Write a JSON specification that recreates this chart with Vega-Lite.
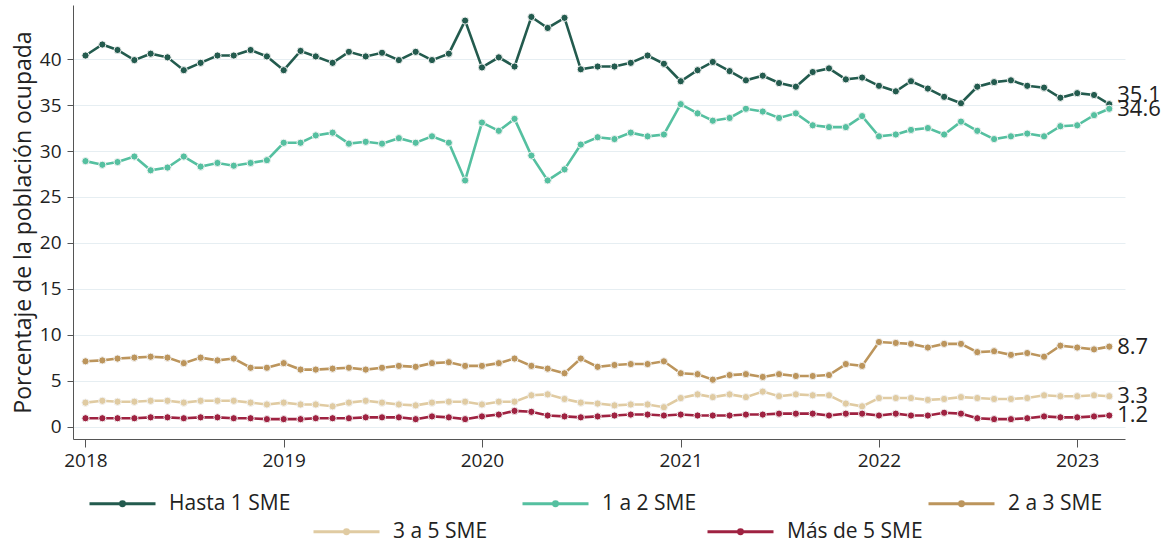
{
"$schema":"https://vega.github.io/schema/vega-lite/v6.json",
"width":1052,"height":434,
"autosize":{"type":"none"},
"padding":{"left":73,"top":5,"right":44,"bottom":104},
"background":"white",
"config":{"font":"Open Sans","view":{"stroke":null}},
"data":{"values":[
{"fecha":"2018-01-01","Hasta 1 SME":40.4,"1 a 2 SME":28.9,"2 a 3 SME":7.1,"3 a 5 SME":2.6,"Más de 5 SME":0.9},
{"fecha":"2018-02-01","Hasta 1 SME":41.6,"1 a 2 SME":28.5,"2 a 3 SME":7.2,"3 a 5 SME":2.8,"Más de 5 SME":0.9},
{"fecha":"2018-03-01","Hasta 1 SME":41.0,"1 a 2 SME":28.8,"2 a 3 SME":7.4,"3 a 5 SME":2.7,"Más de 5 SME":0.9},
{"fecha":"2018-04-01","Hasta 1 SME":39.9,"1 a 2 SME":29.4,"2 a 3 SME":7.5,"3 a 5 SME":2.7,"Más de 5 SME":0.9},
{"fecha":"2018-05-01","Hasta 1 SME":40.6,"1 a 2 SME":27.9,"2 a 3 SME":7.6,"3 a 5 SME":2.8,"Más de 5 SME":1.0},
{"fecha":"2018-06-01","Hasta 1 SME":40.2,"1 a 2 SME":28.2,"2 a 3 SME":7.5,"3 a 5 SME":2.8,"Más de 5 SME":1.0},
{"fecha":"2018-07-01","Hasta 1 SME":38.8,"1 a 2 SME":29.4,"2 a 3 SME":6.9,"3 a 5 SME":2.6,"Más de 5 SME":0.9},
{"fecha":"2018-08-01","Hasta 1 SME":39.6,"1 a 2 SME":28.3,"2 a 3 SME":7.5,"3 a 5 SME":2.8,"Más de 5 SME":1.0},
{"fecha":"2018-09-01","Hasta 1 SME":40.4,"1 a 2 SME":28.7,"2 a 3 SME":7.2,"3 a 5 SME":2.8,"Más de 5 SME":1.0},
{"fecha":"2018-10-01","Hasta 1 SME":40.4,"1 a 2 SME":28.4,"2 a 3 SME":7.4,"3 a 5 SME":2.8,"Más de 5 SME":0.9},
{"fecha":"2018-11-01","Hasta 1 SME":41.0,"1 a 2 SME":28.7,"2 a 3 SME":6.4,"3 a 5 SME":2.6,"Más de 5 SME":0.9},
{"fecha":"2018-12-01","Hasta 1 SME":40.3,"1 a 2 SME":29.0,"2 a 3 SME":6.4,"3 a 5 SME":2.4,"Más de 5 SME":0.8},
{"fecha":"2019-01-01","Hasta 1 SME":38.8,"1 a 2 SME":30.9,"2 a 3 SME":6.9,"3 a 5 SME":2.6,"Más de 5 SME":0.8},
{"fecha":"2019-02-01","Hasta 1 SME":40.9,"1 a 2 SME":30.9,"2 a 3 SME":6.2,"3 a 5 SME":2.4,"Más de 5 SME":0.8},
{"fecha":"2019-03-01","Hasta 1 SME":40.3,"1 a 2 SME":31.7,"2 a 3 SME":6.2,"3 a 5 SME":2.4,"Más de 5 SME":0.9},
{"fecha":"2019-04-01","Hasta 1 SME":39.6,"1 a 2 SME":32.0,"2 a 3 SME":6.3,"3 a 5 SME":2.2,"Más de 5 SME":0.9},
{"fecha":"2019-05-01","Hasta 1 SME":40.8,"1 a 2 SME":30.8,"2 a 3 SME":6.4,"3 a 5 SME":2.6,"Más de 5 SME":0.9},
{"fecha":"2019-06-01","Hasta 1 SME":40.3,"1 a 2 SME":31.0,"2 a 3 SME":6.2,"3 a 5 SME":2.8,"Más de 5 SME":1.0},
{"fecha":"2019-07-01","Hasta 1 SME":40.7,"1 a 2 SME":30.8,"2 a 3 SME":6.4,"3 a 5 SME":2.6,"Más de 5 SME":1.0},
{"fecha":"2019-08-01","Hasta 1 SME":39.9,"1 a 2 SME":31.4,"2 a 3 SME":6.6,"3 a 5 SME":2.4,"Más de 5 SME":1.0},
{"fecha":"2019-09-01","Hasta 1 SME":40.8,"1 a 2 SME":30.9,"2 a 3 SME":6.5,"3 a 5 SME":2.3,"Más de 5 SME":0.8},
{"fecha":"2019-10-01","Hasta 1 SME":39.9,"1 a 2 SME":31.6,"2 a 3 SME":6.9,"3 a 5 SME":2.6,"Más de 5 SME":1.1},
{"fecha":"2019-11-01","Hasta 1 SME":40.6,"1 a 2 SME":30.9,"2 a 3 SME":7.0,"3 a 5 SME":2.7,"Más de 5 SME":1.0},
{"fecha":"2019-12-01","Hasta 1 SME":44.2,"1 a 2 SME":26.8,"2 a 3 SME":6.6,"3 a 5 SME":2.7,"Más de 5 SME":0.8},
{"fecha":"2020-01-01","Hasta 1 SME":39.1,"1 a 2 SME":33.1,"2 a 3 SME":6.6,"3 a 5 SME":2.4,"Más de 5 SME":1.1},
{"fecha":"2020-02-01","Hasta 1 SME":40.2,"1 a 2 SME":32.2,"2 a 3 SME":6.9,"3 a 5 SME":2.7,"Más de 5 SME":1.3},
{"fecha":"2020-03-01","Hasta 1 SME":39.2,"1 a 2 SME":33.5,"2 a 3 SME":7.4,"3 a 5 SME":2.7,"Más de 5 SME":1.7},
{"fecha":"2020-04-01","Hasta 1 SME":44.6,"1 a 2 SME":29.5,"2 a 3 SME":6.6,"3 a 5 SME":3.4,"Más de 5 SME":1.6},
{"fecha":"2020-05-01","Hasta 1 SME":43.4,"1 a 2 SME":26.8,"2 a 3 SME":6.3,"3 a 5 SME":3.5,"Más de 5 SME":1.2},
{"fecha":"2020-06-01","Hasta 1 SME":44.5,"1 a 2 SME":28.0,"2 a 3 SME":5.8,"3 a 5 SME":3.0,"Más de 5 SME":1.1},
{"fecha":"2020-07-01","Hasta 1 SME":38.9,"1 a 2 SME":30.7,"2 a 3 SME":7.4,"3 a 5 SME":2.6,"Más de 5 SME":1.0},
{"fecha":"2020-08-01","Hasta 1 SME":39.2,"1 a 2 SME":31.5,"2 a 3 SME":6.5,"3 a 5 SME":2.5,"Más de 5 SME":1.1},
{"fecha":"2020-09-01","Hasta 1 SME":39.2,"1 a 2 SME":31.3,"2 a 3 SME":6.7,"3 a 5 SME":2.3,"Más de 5 SME":1.2},
{"fecha":"2020-10-01","Hasta 1 SME":39.6,"1 a 2 SME":32.0,"2 a 3 SME":6.8,"3 a 5 SME":2.4,"Más de 5 SME":1.3},
{"fecha":"2020-11-01","Hasta 1 SME":40.4,"1 a 2 SME":31.6,"2 a 3 SME":6.8,"3 a 5 SME":2.4,"Más de 5 SME":1.3},
{"fecha":"2020-12-01","Hasta 1 SME":39.5,"1 a 2 SME":31.8,"2 a 3 SME":7.1,"3 a 5 SME":2.1,"Más de 5 SME":1.2},
{"fecha":"2021-01-01","Hasta 1 SME":37.6,"1 a 2 SME":35.1,"2 a 3 SME":5.8,"3 a 5 SME":3.1,"Más de 5 SME":1.3},
{"fecha":"2021-02-01","Hasta 1 SME":38.8,"1 a 2 SME":34.1,"2 a 3 SME":5.7,"3 a 5 SME":3.5,"Más de 5 SME":1.2},
{"fecha":"2021-03-01","Hasta 1 SME":39.7,"1 a 2 SME":33.3,"2 a 3 SME":5.1,"3 a 5 SME":3.2,"Más de 5 SME":1.2},
{"fecha":"2021-04-01","Hasta 1 SME":38.7,"1 a 2 SME":33.6,"2 a 3 SME":5.6,"3 a 5 SME":3.5,"Más de 5 SME":1.2},
{"fecha":"2021-05-01","Hasta 1 SME":37.7,"1 a 2 SME":34.6,"2 a 3 SME":5.7,"3 a 5 SME":3.2,"Más de 5 SME":1.3},
{"fecha":"2021-06-01","Hasta 1 SME":38.2,"1 a 2 SME":34.3,"2 a 3 SME":5.4,"3 a 5 SME":3.8,"Más de 5 SME":1.3},
{"fecha":"2021-07-01","Hasta 1 SME":37.4,"1 a 2 SME":33.6,"2 a 3 SME":5.7,"3 a 5 SME":3.3,"Más de 5 SME":1.4},
{"fecha":"2021-08-01","Hasta 1 SME":37.0,"1 a 2 SME":34.1,"2 a 3 SME":5.5,"3 a 5 SME":3.5,"Más de 5 SME":1.4},
{"fecha":"2021-09-01","Hasta 1 SME":38.6,"1 a 2 SME":32.8,"2 a 3 SME":5.5,"3 a 5 SME":3.4,"Más de 5 SME":1.4},
{"fecha":"2021-10-01","Hasta 1 SME":39.0,"1 a 2 SME":32.6,"2 a 3 SME":5.6,"3 a 5 SME":3.4,"Más de 5 SME":1.2},
{"fecha":"2021-11-01","Hasta 1 SME":37.8,"1 a 2 SME":32.6,"2 a 3 SME":6.8,"3 a 5 SME":2.5,"Más de 5 SME":1.4},
{"fecha":"2021-12-01","Hasta 1 SME":38.0,"1 a 2 SME":33.8,"2 a 3 SME":6.6,"3 a 5 SME":2.2,"Más de 5 SME":1.4},
{"fecha":"2022-01-01","Hasta 1 SME":37.1,"1 a 2 SME":31.6,"2 a 3 SME":9.2,"3 a 5 SME":3.1,"Más de 5 SME":1.2},
{"fecha":"2022-02-01","Hasta 1 SME":36.5,"1 a 2 SME":31.8,"2 a 3 SME":9.1,"3 a 5 SME":3.1,"Más de 5 SME":1.4},
{"fecha":"2022-03-01","Hasta 1 SME":37.6,"1 a 2 SME":32.3,"2 a 3 SME":9.0,"3 a 5 SME":3.1,"Más de 5 SME":1.2},
{"fecha":"2022-04-01","Hasta 1 SME":36.8,"1 a 2 SME":32.5,"2 a 3 SME":8.6,"3 a 5 SME":2.9,"Más de 5 SME":1.2},
{"fecha":"2022-05-01","Hasta 1 SME":35.9,"1 a 2 SME":31.8,"2 a 3 SME":9.0,"3 a 5 SME":3.0,"Más de 5 SME":1.5},
{"fecha":"2022-06-01","Hasta 1 SME":35.2,"1 a 2 SME":33.2,"2 a 3 SME":9.0,"3 a 5 SME":3.2,"Más de 5 SME":1.4},
{"fecha":"2022-07-01","Hasta 1 SME":37.0,"1 a 2 SME":32.2,"2 a 3 SME":8.1,"3 a 5 SME":3.1,"Más de 5 SME":0.9},
{"fecha":"2022-08-01","Hasta 1 SME":37.5,"1 a 2 SME":31.3,"2 a 3 SME":8.2,"3 a 5 SME":3.0,"Más de 5 SME":0.8},
{"fecha":"2022-09-01","Hasta 1 SME":37.7,"1 a 2 SME":31.6,"2 a 3 SME":7.8,"3 a 5 SME":3.0,"Más de 5 SME":0.8},
{"fecha":"2022-10-01","Hasta 1 SME":37.1,"1 a 2 SME":31.9,"2 a 3 SME":8.0,"3 a 5 SME":3.1,"Más de 5 SME":0.9},
{"fecha":"2022-11-01","Hasta 1 SME":36.9,"1 a 2 SME":31.6,"2 a 3 SME":7.6,"3 a 5 SME":3.4,"Más de 5 SME":1.1},
{"fecha":"2022-12-01","Hasta 1 SME":35.8,"1 a 2 SME":32.7,"2 a 3 SME":8.8,"3 a 5 SME":3.3,"Más de 5 SME":1.0},
{"fecha":"2023-01-01","Hasta 1 SME":36.3,"1 a 2 SME":32.8,"2 a 3 SME":8.6,"3 a 5 SME":3.3,"Más de 5 SME":1.0},
{"fecha":"2023-02-01","Hasta 1 SME":36.1,"1 a 2 SME":33.9,"2 a 3 SME":8.4,"3 a 5 SME":3.4,"Más de 5 SME":1.1},
{"fecha":"2023-03-01","Hasta 1 SME":35.1,"1 a 2 SME":34.6,"2 a 3 SME":8.7,"3 a 5 SME":3.3,"Más de 5 SME":1.2}
]},
"transform":[{"fold":["Hasta 1 SME","1 a 2 SME","2 a 3 SME","3 a 5 SME","Más de 5 SME"],"as":["serie","valor"]}],
"encoding":{
 "x":{"field":"fecha","type":"temporal","scale":{"type":"utc","domain":[{"year":2017,"month":12,"date":9,"utc":true},{"year":2023,"month":3,"date":30,"utc":true}]},
  "axis":{"title":null,"grid":false,"format":"%Y","tickCount":{"interval":"year","step":1},"labelFontSize":19,"labelColor":"#222","labelPadding":4,"tickSize":8,"tickColor":"#555","domainColor":"#555","labelFlush":false}},
 "y":{"field":"valor","type":"quantitative","scale":{"domain":[-1.36,45.9],"nice":false,"zero":false},
  "axis":{"title":"Porcentaje de la población ocupada","values":[0,5,10,15,20,25,30,35,40],"grid":true,"gridColor":"#e6eef2","gridWidth":1,"domainColor":"#555","tickColor":"#555","tickSize":6,"labelFontSize":19,"labelColor":"#222","labelPadding":6,"titleFontSize":23,"titleFontWeight":"normal","titleColor":"#222","titlePadding":4}}
},
"layer":[
 {"transform":[{"filter":{"field":"serie","oneOf":["Hasta 1 SME","1 a 2 SME","2 a 3 SME"]}}],
  "mark":{"type":"line","strokeWidth":2.6,"point":{"filled":true,"size":52,"stroke":"#f2f2f2","strokeWidth":1}},
  "encoding":{"color":{"field":"serie","type":"nominal","sort":null,
   "scale":{"domain":["Hasta 1 SME","1 a 2 SME","2 a 3 SME"],"range":["#235b4e","#55c0a0","#bc955c"]},
   "legend":{"orient":"none","legendX":15,"legendY":464,"direction":"horizontal","columns":3,"title":null,"symbolType":"M-1,0L1,0M-0.06,0A0.06,0.06,0,1,1,0.06,0A0.06,0.06,0,1,1,-0.06,0","symbolSize":4356,"symbolStrokeWidth":3,"labelFontSize":21,"labelColor":"#222","columnPadding":225,"symbolOffset":0,"labelOffset":12}}}},
 {"transform":[{"filter":{"field":"serie","oneOf":["3 a 5 SME","Más de 5 SME"]}}],
  "mark":{"type":"line","strokeWidth":2.6,"point":{"filled":true,"size":52,"stroke":"#f2f2f2","strokeWidth":1}},
  "encoding":{"color":{"field":"serie","type":"nominal","sort":null,
   "scale":{"domain":["3 a 5 SME","Más de 5 SME"],"range":["#e0cba2","#9f2241"]},
   "legend":{"orient":"none","legendX":239,"legendY":492,"direction":"horizontal","columns":2,"title":null,"symbolType":"M-1,0L1,0M-0.06,0A0.06,0.06,0,1,1,0.06,0A0.06,0.06,0,1,1,-0.06,0","symbolSize":4356,"symbolStrokeWidth":3,"labelFontSize":21,"labelColor":"#222","columnPadding":213,"symbolOffset":0,"labelOffset":12}}}},
 {"transform":[{"filter":"utcyear(toDate(datum.fecha)) == 2023 && utcmonth(toDate(datum.fecha)) == 2 && datum.serie == 'Hasta 1 SME'"}],
  "mark":{"type":"text","align":"left","baseline":"middle","dx":8,"dy":-9,"fontSize":22,"color":"#222"},
  "encoding":{"text":{"field":"valor","type":"quantitative","format":".1f"}}},
 {"transform":[{"filter":"utcyear(toDate(datum.fecha)) == 2023 && utcmonth(toDate(datum.fecha)) == 2 && datum.serie != 'Hasta 1 SME'"}],
  "mark":{"type":"text","align":"left","baseline":"middle","dx":8,"fontSize":22,"color":"#222"},
  "encoding":{"text":{"field":"valor","type":"quantitative","format":".1f"}}}
],
"resolve":{"scale":{"color":"independent"},"legend":{"color":"independent"}}
}
